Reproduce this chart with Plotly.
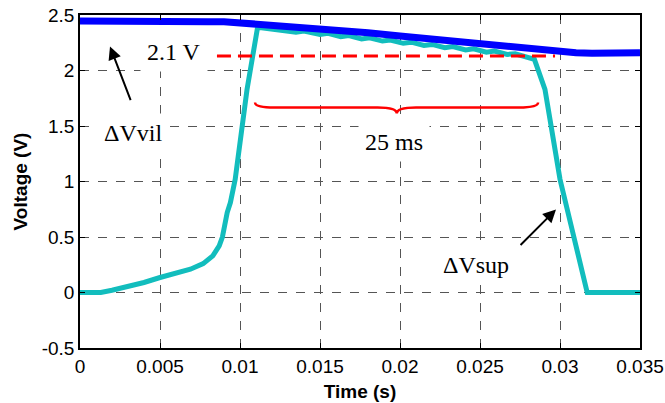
import plotly.graph_objects as go

# ---- data ----
t_sup = [0, 0.0013, 0.002, 0.0031, 0.004, 0.005, 0.006, 0.0069, 0.0077, 0.0083,
         0.0087, 0.0089, 0.0092, 0.0094, 0.0097, 0.01044, 0.0111,
         0.0125, 0.0135, 0.0140, 0.0150, 0.0155, 0.0163, 0.0168, 0.0176, 0.0181,
         0.0189, 0.0194, 0.0202, 0.0207, 0.0215, 0.0220, 0.0228, 0.0233, 0.0241,
         0.0246, 0.0254, 0.0259, 0.0267, 0.0272, 0.0278, 0.0284,
         0.02906, 0.0300, 0.03075, 0.0317, 0.035]
v_sup = [0, 0, 0.02, 0.054, 0.09, 0.135, 0.175, 0.21, 0.26, 0.33,
         0.42, 0.5, 0.72, 0.81, 1.02, 1.83, 2.39,
         2.365, 2.345, 2.355, 2.325, 2.335, 2.305, 2.315, 2.285, 2.295,
         2.265, 2.275, 2.245, 2.255, 2.225, 2.235, 2.205, 2.215, 2.185,
         2.195, 2.165, 2.175, 2.145, 2.15, 2.125, 2.10,
         1.83, 1.02, 0.57, 0, 0]

t_vil = [0, 0.002, 0.004, 0.006, 0.008, 0.009, 0.010, 0.012, 0.014, 0.016, 0.018,
         0.020, 0.022, 0.024, 0.026, 0.028, 0.029, 0.030, 0.031, 0.032, 0.033,
         0.034, 0.035]
v_vil = [2.445, 2.44, 2.445, 2.44, 2.44, 2.44, 2.43, 2.41, 2.39, 2.365, 2.34,
         2.31, 2.28, 2.25, 2.22, 2.195, 2.18, 2.168, 2.16, 2.155, 2.157,
         2.158, 2.16]

ref_t = [0.00856, 0.02969]
ref_v = [2.13, 2.13]

brace_t = [0.01094, 0.0198, 0.02863]   # left end, tip, right end
brace_v = [1.712, 1.667, 1.613]        # ends, bar, tip

x_ticks = [0, 0.005, 0.01, 0.015, 0.02, 0.025, 0.03, 0.035]
x_labels = ["0", "0.005", "0.01", "0.015", "0.02", "0.025", "0.03", "0.035"]
y_ticks = [-0.5, 0, 0.5, 1, 1.5, 2, 2.5]
y_labels = ["-0.5", "0", "0.5", "1", "1.5", "2", "2.5"]

SANS = "Liberation Sans, Arial, Helvetica, sans-serif"
SERIF = "Liberation Serif, Times New Roman, serif"

fig = go.Figure()
fig.add_trace(go.Scatter(x=t_sup, y=v_sup, mode="lines",
                         line=dict(color="#12BDBD", width=5), showlegend=False))
fig.add_trace(go.Scatter(x=t_vil, y=v_vil, mode="lines",
                         line=dict(color="#0000FF", width=7), showlegend=False))
fig.add_trace(go.Scatter(x=ref_t, y=ref_v, mode="lines",
                         line=dict(color="#FF0000", width=3, dash="14px,7px"),
                         showlegend=False))

# curly brace
x0, xm, x1 = brace_t
ye, yh, yt = brace_v
d = 0.0012
path = (f"M {x0},{ye} Q {x0},{yh} {x0 + d},{yh} L {xm - d},{yh} "
        f"Q {xm},{yh} {xm},{yt} Q {xm},{yh} {xm + d},{yh} "
        f"L {x1 - d},{yh} Q {x1},{yh} {x1},{ye}")
fig.add_shape(type="path", path=path, xref="x", yref="y",
              line=dict(color="#FF0000", width=2.5))

ann_font = dict(family=SERIF, size=24, color="black")
txt = dict(showarrow=False, font=ann_font, bgcolor="white", borderpad=6)
fig.add_annotation(x=0.0059, y=2.17, text="2.1 V", **txt)
fig.add_annotation(x=0.0033, y=1.44, text="ΔVvil", **txt)
fig.add_annotation(x=0.0196, y=1.36, text="25 ms", **txt)
fig.add_annotation(x=0.02475, y=0.25, text="ΔVsup", **txt)
fig.add_annotation(x=0.001875, y=2.216, ax=0.0032, ay=1.72, xref="x", yref="y",
                   axref="x", ayref="y", showarrow=True, arrowhead=2,
                   arrowsize=1.3, arrowwidth=2, arrowcolor="black", text="")
fig.add_annotation(x=0.02975, y=0.748, ax=0.02744, ay=0.414, xref="x", yref="y",
                   axref="x", ayref="y", showarrow=True, arrowhead=2,
                   arrowsize=1.3, arrowwidth=2, arrowcolor="black", text="")

axis_common = dict(showline=True, linecolor="black", linewidth=1.5, mirror="allticks",
                   ticks="inside", ticklen=5, tickcolor="black", automargin=False,
                   showgrid=True, gridcolor="#555555", griddash="dash", gridwidth=1,
                   zeroline=False, tickfont=dict(family=SANS, size=19, color="black"))

fig.update_xaxes(range=[0, 0.035], tickvals=x_ticks, ticktext=x_labels,
                 title=dict(text="<b>Time (s)</b>", font=dict(family=SANS, size=19, color="black"),
                            standoff=9),
                 **axis_common)
fig.update_yaxes(range=[-0.5, 2.5], tickvals=y_ticks, ticktext=y_labels,
                 title=dict(text="<b>Voltage (V)</b>", font=dict(family=SANS, size=19, color="black"),
                            standoff=9),
                 **axis_common)

fig.update_layout(width=665, height=403, margin=dict(l=80, r=25, t=15, b=55),
                  plot_bgcolor="white", paper_bgcolor="white")

fig.write_html("out.html")
